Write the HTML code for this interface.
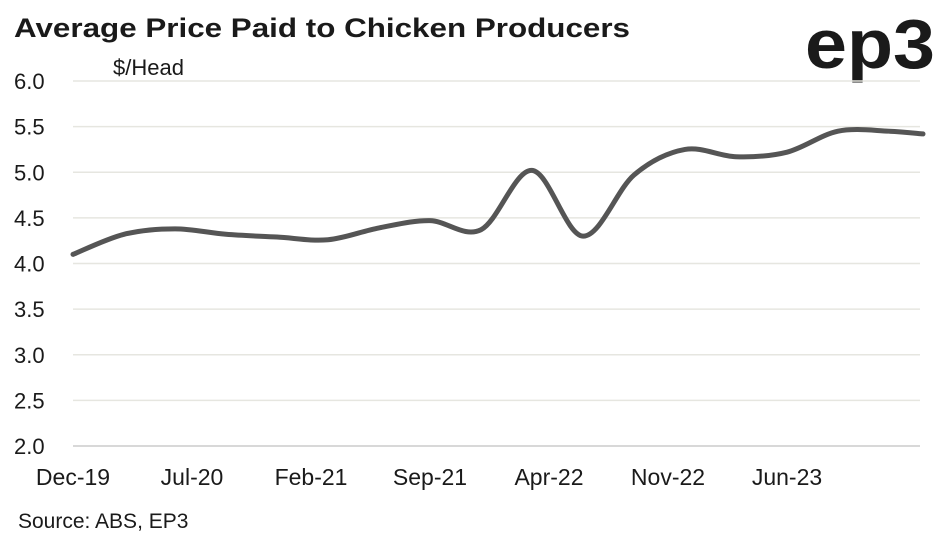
<!DOCTYPE html>
<html><head><meta charset="utf-8"><style>
body{margin:0;background:#fff;width:947px;height:539px;overflow:hidden;font-family:"Liberation Sans",sans-serif}
</style></head><body>
<svg width="947" height="539">
<text x="14" y="37" font-size="27" font-weight="bold" fill="#1a1a1a" textLength="616" lengthAdjust="spacingAndGlyphs">Average Price Paid to Chicken Producers</text>
<text x="935" y="68" text-anchor="end" font-size="70" font-weight="bold" fill="#1a1a1a" textLength="130" lengthAdjust="spacingAndGlyphs">ep3</text>
<text x="113" y="75" font-size="22" fill="#1a1a1a">$/Head</text>
<text x="18" y="528" font-size="21" fill="#1a1a1a">Source: ABS, EP3</text>
<g id="grid"></g><g id="yt"></g><g id="xt"></g>
<path id="line" fill="none" stroke="#555" stroke-width="5" stroke-linecap="round"/>
</svg>
<script>
const months=[0,3,6,9,12,15,18,21,24,27,30,33,36,39,42,45,48,50];
const values=[4.10,4.32,4.38,4.32,4.29,4.26,4.39,4.47,4.37,5.02,4.30,4.97,5.25,5.17,5.22,5.45,5.45,5.42];
const yTicks=[2.0,2.5,3.0,3.5,4.0,4.5,5.0,5.5,6.0];
const xTickLabels=["Dec-19","Jul-20","Feb-21","Sep-21","Apr-22","Nov-22","Jun-23"];
const xTickMonths=[0,7,14,21,28,35,42];
const X=m=>73+m*17, Y=v=>446-(v-2)*91.25;
const ns="http://www.w3.org/2000/svg";
const grid=document.getElementById('grid'),yt=document.getElementById('yt'),xt=document.getElementById('xt');
yTicks.forEach(v=>{
 const l=document.createElementNS(ns,'line');
 l.setAttribute('x1',73);l.setAttribute('x2',920);l.setAttribute('y1',Y(v));l.setAttribute('y2',Y(v));
 l.setAttribute('stroke',v==2?'#ccc':'#e6e6e0');l.setAttribute('stroke-width',1.5);
 
 
 grid.appendChild(l);
 const t=document.createElementNS(ns,'text');
 t.setAttribute('x',14);t.setAttribute('y',Y(v)+8);t.setAttribute('font-size',22);t.setAttribute('fill','#1a1a1a');
 t.textContent=v.toFixed(1);
 
 
 yt.appendChild(t);
});
xTickLabels.forEach((s,i)=>{
 const t=document.createElementNS(ns,'text');
 t.setAttribute('x',X(xTickMonths[i]));t.setAttribute('y',485);t.setAttribute('font-size',23);t.setAttribute('text-anchor','middle');t.setAttribute('fill','#1a1a1a');
 t.textContent=s;
 
 
 xt.appendChild(t);
});
const P=months.map((m,i)=>[X(m),Y(values[i])]);
let d='M'+P[0][0]+','+P[0][1];
for(let i=0;i<P.length-1;i++){
 const p0=P[i-1]||P[i],p1=P[i],p2=P[i+1],p3=P[i+2]||P[i+1];
 const c1=[p1[0]+(p2[0]-p0[0])/6,p1[1]+(p2[1]-p0[1])/6],c2=[p2[0]-(p3[0]-p1[0])/6,p2[1]-(p3[1]-p1[1])/6];
 d+=` C${c1[0]},${c1[1]} ${c2[0]},${c2[1]} ${p2[0]},${p2[1]}`;
}
document.getElementById('line').setAttribute('d',d);
</script>
</body></html>
